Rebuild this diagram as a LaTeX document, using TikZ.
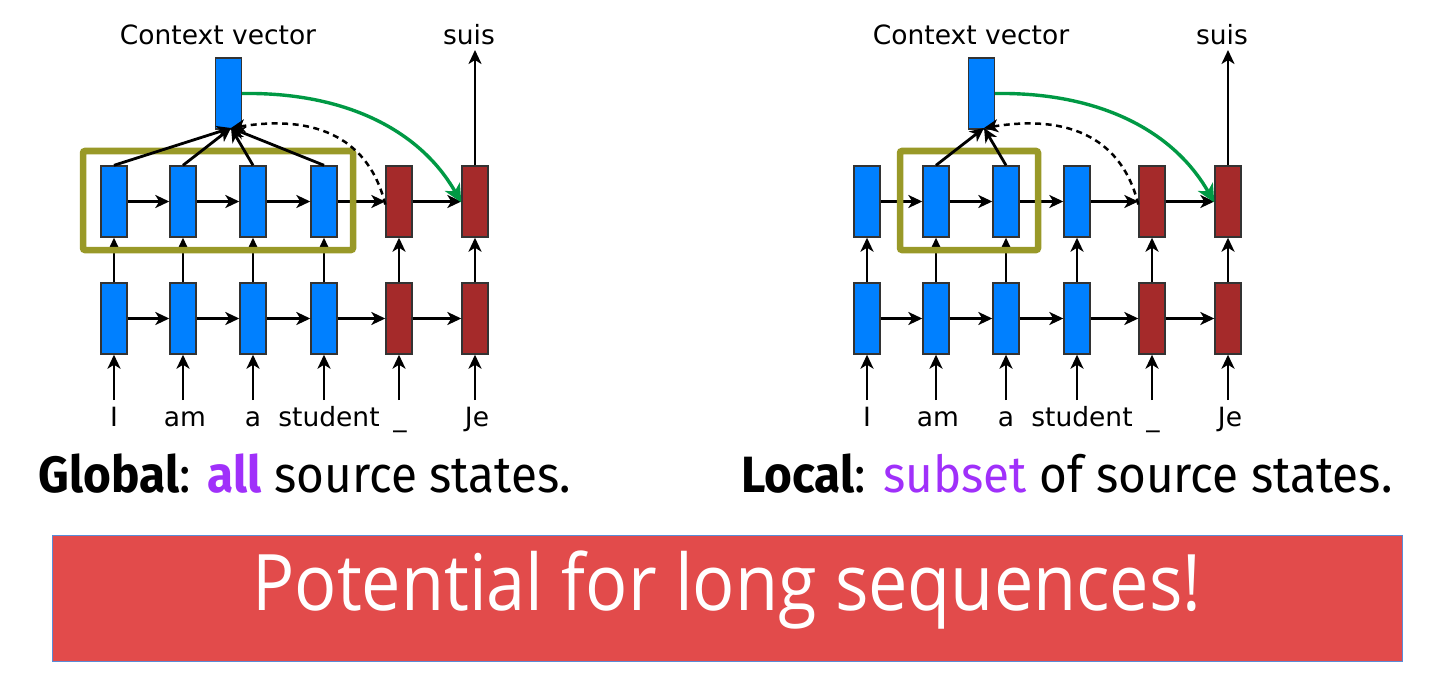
\documentclass[tikz,border=0pt]{standalone}
\usepackage{fontspec}
\setmainfont{DejaVu Sans}
\newfontfamily\capfont[FakeStretch=0.935]{Fira Sans}
\newfontfamily\handfont[FakeStretch=0.9]{Open Sans}
\usetikzlibrary{arrows.meta}
\definecolor{encblue}{RGB}{0,128,255}
\definecolor{decred}{RGB}{165,42,42}
\definecolor{olive}{RGB}{153,153,40}
\definecolor{attgreen}{RGB}{0,153,68}
\definecolor{hlpurple}{RGB}{160,48,250}
\definecolor{banner}{RGB}{226,75,75}
\definecolor{bannerline}{RGB}{90,140,215}
\tikzset{
  cell/.style={draw=black!80, line width=1.4pt, minimum width=26pt, minimum height=71pt, inner sep=0pt},
  enc/.style={cell, fill=encblue},
  dec/.style={cell, fill=decred},
  tip/.style={-{Stealth[length=14pt,width=13pt,inset=4pt]}},
  arr/.style={line width=2.8pt, tip},
  word/.style={font=\fontsize{26.5}{30}\selectfont, anchor=base, inner sep=0pt},
  hl/.style={draw=olive, line width=6.5pt, rounded corners=2pt},
  attn/.style={draw=attgreen, line width=3.4pt, -{Stealth[length=18pt,width=17pt,inset=5pt]}},
  captext/.style={font=\capfont\fontsize{51}{56}\selectfont, anchor=base, inner sep=0pt},
}
\begin{document}
\begin{tikzpicture}[x=1pt,y=-1pt]
\useasboundingbox (0,0) rectangle (1448,674);
\foreach \p/\dx/\hx/\hw/\att in {g/0/83/270/{1,2,3,4}, l/753/147/138/{2,3}}{
\begin{scope}[xshift=\dx pt]
  % bottom and top rows
  \foreach \i/\x/\t in {1/114/enc,2/183/enc,3/253/enc,4/324/enc,5/399/dec,6/475/dec}{
    \node[\t] (\p b\i) at (\x,318.5) {};
    \node[\t] (\p t\i) at (\x,201.5) {};
    \coordinate (\p in\i) at (\x,400);
    \draw[arr] (\p in\i) -- (\p b\i);
    \draw[arr] (\p b\i) -- (\p t\i);
  }
  \foreach \i/\j in {1/2,2/3,3/4,4/5,5/6}{
    \draw[arr] (\p b\i) -- (\p b\j);
    \draw[arr] (\p t\i) -- (\p t\j);
  }
  % words
  \node[word] (\p w1) at (114,426) {I};
  \node[word] (\p w2) at (185,426) {am};
  \node[word] (\p w3) at (253,426) {a};
  \node[word] (\p w4) at (329,426) {student};
  \node[word] (\p w5) at (400,426) {\_};
  \node[word] (\p w6) at (477,426) {Je};
  % context vector
  \node[enc] (\p ctx) at (228.5,93.5) {};
  \coordinate (\p focus) at (231,128);
  \node[word] (\p ctxlab) at (218,45) {Context vector};
  \node[word] (\p suis) at (469,45) {suis};
  \draw[arr] (\p t6) -- (475,50);
  % highlight
  \draw[hl] (\hx,151) rectangle ++(\hw,99);
  % attention arrows
  \foreach \k in \att {
    \draw[arr] (\p t\k.north) -- (\p focus);
  }
  \draw[line width=2.5pt, dash pattern=on 6pt off 4.5pt, tip]
    ([yshift=-3pt]\p t5.west) .. controls (372,150) and (330,112) .. (\p focus);
  \draw[attn] (\p ctx.east) .. controls (345,92) and (420,130) .. ([yshift=-1pt]\p t6.west);
\end{scope}
}
\node[captext] (capg) at (305,492) {\textbf{Global}: \textcolor{hlpurple}{\textbf{all}} source states.};
\node[captext] (capl) at (1067,492) {\textbf{Local}: \textcolor{hlpurple}{subset} of source states.};
\node[draw=bannerline, line width=1pt, fill=banner, minimum width=1350pt, minimum height=126pt, inner sep=0pt] (ban) at (727,598) {};
\node[text=white, font=\handfont\fontsize{78}{86}\selectfont, inner sep=0pt] (bantext) at (727,590) {Potential for long sequences!};
\end{tikzpicture}
\end{document}
